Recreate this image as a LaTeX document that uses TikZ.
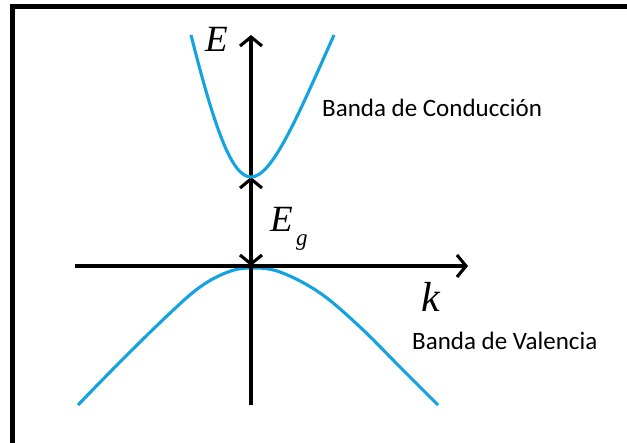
\documentclass[tikz,border=0pt]{standalone}
\usepackage{fontspec}
\setmainfont{Liberation Serif}
\newfontfamily\calib{Carlito}
\usetikzlibrary{arrows.meta}
\definecolor{bandblue}{RGB}{20,163,225}
\begin{document}
\begin{tikzpicture}[x=1pt,y=-1pt,
  axis/.style={line width=3.1pt, black},
  band/.style={line width=3.1pt, bandblue},
  barb/.tip={Straight Barb[length=9pt,width=22pt]},
  lbl/.style={font=\calib\fontsize{25}{30}\selectfont, anchor=base west, inner sep=0pt},
  sym/.style={font=\itshape\fontsize{37}{40}\selectfont, inner sep=0pt, anchor=base west}]
\useasboundingbox (0,0) rectangle (627,443);
\fill[white] (0,0) rectangle (627,443);
% frame
\draw[line width=4.5pt, line join=miter] (12.5,443) -- (12.5,6.5) -- (627,6.5);
% named points
\coordinate (vbot) at (251,405);
\coordinate (vtop) at (251,35);
\coordinate (hleft) at (75,266);
\coordinate (hright) at (468,266);
\coordinate (cbmin) at (251,177);
\coordinate (vbmax) at (251,266);
% valence band
\draw[band] plot[smooth, tension=0.6] coordinates {(78,405) (120,362) (168,315) (200,287) (228,272) (251,268) (280,272) (320,293) (360,327) (400,367) (438,405)};
% axes
\draw[axis, -barb] (vbot) -- (vtop);
\draw[axis, -barb] (hleft) -- (hright);
\draw[axis, barb-barb] (cbmin) -- (vbmax);
% conduction band
\draw[band] (191,35) .. controls (215,130) and (232,177) .. (251,177)
  .. controls (272,177) and (297,118) .. (334,35);
% labels
\node[sym] (lE) at (205,52) {E};
\node[sym] (lEg) at (270,232) {E};
\node[font=\itshape\fontsize{23}{26}\selectfont, inner sep=0pt, anchor=base west] (lg) at (296,246) {g};
\node[sym, font=\itshape\fontsize{42}{44}\selectfont] (lk) at (421,312) {k};
\node[lbl] (cond) at (322,117) {Banda de Conducción};
\node[lbl] (val) at (412,350) {Banda de Valencia};
\end{tikzpicture}
\end{document}
